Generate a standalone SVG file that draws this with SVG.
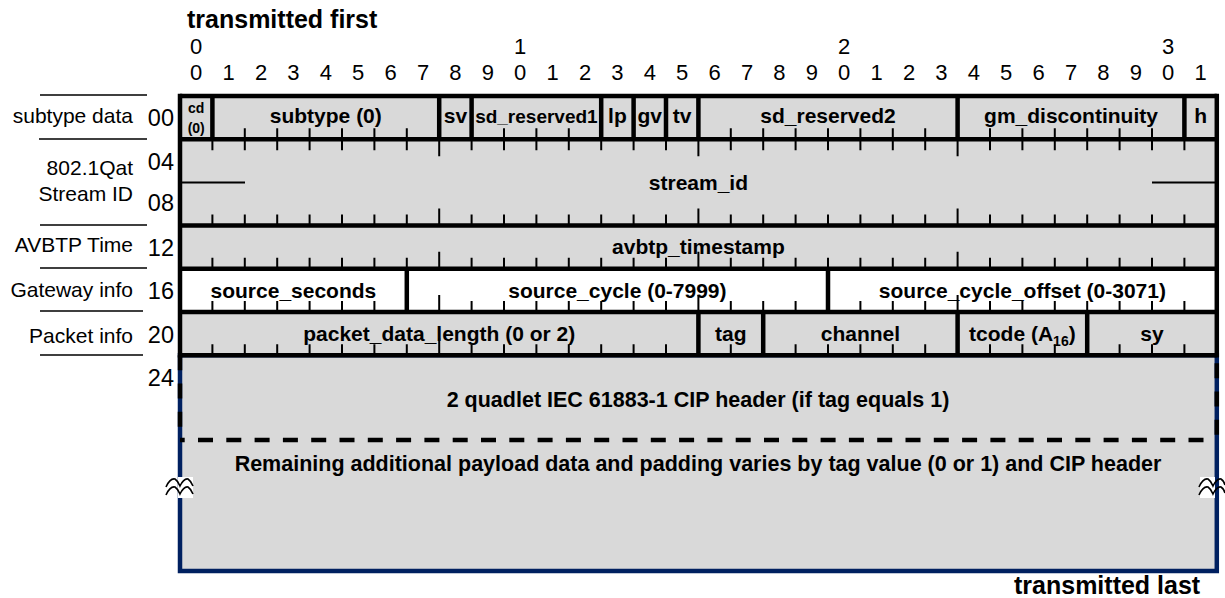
<svg xmlns="http://www.w3.org/2000/svg" width="1225" height="598" viewBox="0 0 1225 598">
  <style>
    text { font-family: "Liberation Sans", Arial, sans-serif; fill: #000; }
    .num { font-size: 22px; text-anchor: middle; }
    .side { font-size: 21px; text-anchor: end; }
    .off { font-size: 23.5px; text-anchor: end; }
    .fld { font-size: 21px; font-weight: bold; text-anchor: middle; }
    .big { font-size: 25px; font-weight: bold; }
    .note { font-size: 21.5px; font-weight: bold; text-anchor: middle; }
    .small { font-size: 14px; font-weight: bold; text-anchor: middle; }
    .grid { stroke: #000; stroke-width: 4.5; fill: none; }
    .tick { stroke: #000; stroke-width: 2; fill: none; }
    .sep { stroke: #000; stroke-width: 1.6; }
    .gray { fill: #d9d9d9; }
    .dash { stroke: #000; stroke-width: 4.5; stroke-dasharray: 15 13.3; fill: none; }
    .wave { stroke: #000; stroke-width: 1.6; fill: none; }
  </style>

  <!-- titles -->
  <text class="big" x="187" y="28">transmitted first</text>
  <text class="big" x="1014" y="594">transmitted last</text>

  <!-- bit numbering: tens row -->
  <g id="bit-tens">
    <text class="num" x="196.2" y="54">0</text>
    <text class="num" x="520.2" y="54">1</text>
    <text class="num" x="844.2" y="54">2</text>
    <text class="num" x="1168.2" y="54">3</text>
  </g>
  <!-- bit numbering: units row -->
  <g id="bit-units">
    <text class="num" x="196.2" y="80">0</text>
    <text class="num" x="228.6" y="80">1</text>
    <text class="num" x="261" y="80">2</text>
    <text class="num" x="293.4" y="80">3</text>
    <text class="num" x="325.8" y="80">4</text>
    <text class="num" x="358.2" y="80">5</text>
    <text class="num" x="390.6" y="80">6</text>
    <text class="num" x="423" y="80">7</text>
    <text class="num" x="455.4" y="80">8</text>
    <text class="num" x="487.8" y="80">9</text>
    <text class="num" x="520.2" y="80">0</text>
    <text class="num" x="552.6" y="80">1</text>
    <text class="num" x="585" y="80">2</text>
    <text class="num" x="617.4" y="80">3</text>
    <text class="num" x="649.8" y="80">4</text>
    <text class="num" x="682.2" y="80">5</text>
    <text class="num" x="714.6" y="80">6</text>
    <text class="num" x="747" y="80">7</text>
    <text class="num" x="779.4" y="80">8</text>
    <text class="num" x="811.8" y="80">9</text>
    <text class="num" x="844.2" y="80">0</text>
    <text class="num" x="876.6" y="80">1</text>
    <text class="num" x="909" y="80">2</text>
    <text class="num" x="941.4" y="80">3</text>
    <text class="num" x="973.8" y="80">4</text>
    <text class="num" x="1006.2" y="80">5</text>
    <text class="num" x="1038.6" y="80">6</text>
    <text class="num" x="1071" y="80">7</text>
    <text class="num" x="1103.4" y="80">8</text>
    <text class="num" x="1135.8" y="80">9</text>
    <text class="num" x="1168.2" y="80">0</text>
    <text class="num" x="1200.6" y="80">1</text>
  </g>

  <!-- left-hand section names and quadlet offsets -->
  <g id="side-labels">
    <path class="sep" d="M40 95H147M39 139H147M40 225H147M40 268H147M40 311H143M40 355H143"/>
    <text class="side" x="133" y="123">subtype data</text>
    <text class="side" x="133" y="175">802.1Qat</text>
    <text class="side" x="133" y="201">Stream ID</text>
    <text class="side" x="133" y="252">AVBTP Time</text>
    <text class="side" x="133" y="297">Gateway info</text>
    <text class="side" x="133" y="343">Packet info</text>
    <text class="off" x="174" y="126">00</text>
    <text class="off" x="174" y="170">04</text>
    <text class="off" x="174" y="211">08</text>
    <text class="off" x="174" y="256">12</text>
    <text class="off" x="174" y="299">16</text>
    <text class="off" x="174" y="343">20</text>
    <text class="off" x="174" y="386">24</text>
  </g>

  <!-- payload area (open-ended) -->
  <g id="payload">
    <rect class="gray" x="180" y="355.2" width="1036.8" height="215.8"/>
    <rect x="180" y="355.2" width="1036.8" height="215.8" fill="none" stroke="#002060" stroke-width="4.5"/>
    <path class="dash" d="M180 440H1216.8" stroke-dashoffset="10.3"/>
    <path class="dash" d="M180 355.2V440" stroke-dasharray="22 10"/>
    <path class="dash" d="M1216.8 355.2V440" stroke-dasharray="18 10" stroke-dashoffset="-8"/>
    <text class="note" x="698" y="407">2 quadlet IEC 61883-1 CIP header (if tag equals 1)</text>
    <text class="note" x="698" y="471">Remaining additional payload data and padding varies by tag value (0 or 1) and CIP header</text>
    <!-- break marks -->
    <rect x="178" y="477" width="15" height="21" fill="#fff"/>
    <path class="wave" d="M166 487Q170 478 175 479Q178 481 180 486Q184 478 188 479Q191 481 193 486M166 495Q170 486 175 487Q178 489 180 494Q184 486 188 487Q191 489 193 494"/>
    <rect x="1200" y="477" width="15" height="21" fill="#fff"/>
    <path class="wave" d="M1199 487Q1203 478 1208 479Q1211 481 1213 486Q1217 478 1221 479Q1224 481 1225 485M1199 495Q1203 486 1208 487Q1211 489 1213 494Q1217 486 1221 487Q1224 489 1225 493"/>
  </g>

  <!-- quadlet 00 -->
  <g id="row-00">
    <rect class="gray" x="180" y="96" width="1036.8" height="43.2"/>
    <text class="small" x="196.2" y="113">cd</text>
    <text class="small" x="196.2" y="133">(0)</text>
    <text class="fld" x="325.8" y="123">subtype (0)</text>
    <text class="fld" x="455.4" y="123">sv</text>
    <text class="fld" x="536.4" y="123" style="font-size:19px">sd_reserved1</text>
    <text class="fld" x="617.4" y="123">lp</text>
    <text class="fld" x="649.8" y="123">gv</text>
    <text class="fld" x="682.2" y="123">tv</text>
    <text class="fld" x="828" y="123">sd_reserved2</text>
    <text class="fld" x="1071" y="123">gm_discontinuity</text>
    <text class="fld" x="1200.6" y="123">h</text>
  </g>

  <!-- quadlets 04-08 -->
  <g id="row-04">
    <rect class="gray" x="180" y="139.2" width="1036.8" height="86.4"/>
    <path d="M182 182.4H245M1152 182.4H1215" stroke="#000" stroke-width="2"/>
    <text class="fld" x="698.4" y="190">stream_id</text>
  </g>

  <!-- quadlet 12 -->
  <g id="row-12">
    <rect class="gray" x="180" y="225.6" width="1036.8" height="43.2"/>
    <text class="fld" x="698.4" y="254">avbtp_timestamp</text>
  </g>

  <!-- quadlet 16 -->
  <g id="row-16">
    <rect x="180" y="268.8" width="1036.8" height="43.2" fill="#fff"/>
    <text class="fld" x="293.4" y="298">source_seconds</text>
    <text class="fld" x="617.4" y="298">source_cycle (0-7999)</text>
    <text class="fld" x="1022.4" y="298">source_cycle_offset (0-3071)</text>
  </g>

  <!-- quadlet 20 -->
  <g id="row-20">
    <rect class="gray" x="180" y="312" width="1036.8" height="43.2"/>
    <text class="fld" x="439.2" y="341">packet_data_length (0 or 2)</text>
    <text class="fld" x="730.8" y="341">tag</text>
    <text class="fld" x="860.4" y="341">channel</text>
    <text class="fld" x="1022.4" y="341">tcode (A<tspan font-size="14" dy="5">16</tspan><tspan dy="-5">)</tspan></text>
    <text class="fld" x="1152" y="341">sy</text>
  </g>

  <!-- bit ticks -->
  <g id="ticks" class="tick">
    <!-- row 00, upward from bottom -->
    <path d="M244.8 139.2v-11M277.2 139.2v-11M309.6 139.2v-11M342 139.2v-11M374.4 139.2v-11M406.8 139.2v-11M504 139.2v-11M536.4 139.2v-11M568.8 139.2v-11M730.8 139.2v-11M763.2 139.2v-11M795.6 139.2v-11M828 139.2v-11M860.4 139.2v-11M892.8 139.2v-11M925.2 139.2v-11M990 139.2v-11M1022.4 139.2v-11M1054.8 139.2v-11M1087.2 139.2v-11M1119.6 139.2v-11M1152 139.2v-11"/>
    <!-- row 04, downward from top -->
    <path d="M212.4 139.2v11M244.8 139.2v11M277.2 139.2v11M309.6 139.2v11M342 139.2v11M374.4 139.2v11M406.8 139.2v11M439.2 139.2v17M471.6 139.2v11M504 139.2v11M536.4 139.2v11M568.8 139.2v11M601.2 139.2v11M633.6 139.2v11M666 139.2v11M698.4 139.2v17M730.8 139.2v11M763.2 139.2v11M795.6 139.2v11M828 139.2v11M860.4 139.2v11M892.8 139.2v11M925.2 139.2v11M957.6 139.2v17M990 139.2v11M1022.4 139.2v11M1054.8 139.2v11M1087.2 139.2v11M1119.6 139.2v11M1152 139.2v11M1184.4 139.2v11"/>
    <!-- row 08, upward from bottom -->
    <path d="M212.4 225.6v-11M244.8 225.6v-11M277.2 225.6v-11M309.6 225.6v-11M342 225.6v-11M374.4 225.6v-11M406.8 225.6v-11M439.2 225.6v-17M471.6 225.6v-11M504 225.6v-11M536.4 225.6v-11M568.8 225.6v-11M601.2 225.6v-11M633.6 225.6v-11M666 225.6v-11M698.4 225.6v-17M730.8 225.6v-11M763.2 225.6v-11M795.6 225.6v-11M828 225.6v-11M860.4 225.6v-11M892.8 225.6v-11M925.2 225.6v-11M957.6 225.6v-17M990 225.6v-11M1022.4 225.6v-11M1054.8 225.6v-11M1087.2 225.6v-11M1119.6 225.6v-11M1152 225.6v-11M1184.4 225.6v-11"/>
    <!-- row 12 -->
    <path d="M212.4 268.8v-11M244.8 268.8v-11M277.2 268.8v-11M309.6 268.8v-11M342 268.8v-11M374.4 268.8v-11M406.8 268.8v-11M439.2 268.8v-17M471.6 268.8v-11M504 268.8v-11M536.4 268.8v-11M568.8 268.8v-11M601.2 268.8v-11M633.6 268.8v-11M666 268.8v-11M698.4 268.8v-17M730.8 268.8v-11M763.2 268.8v-11M795.6 268.8v-11M828 268.8v-11M860.4 268.8v-11M892.8 268.8v-11M925.2 268.8v-11M957.6 268.8v-17M990 268.8v-11M1022.4 268.8v-11M1054.8 268.8v-11M1087.2 268.8v-11M1119.6 268.8v-11M1152 268.8v-11M1184.4 268.8v-11"/>
    <!-- row 16 -->
    <path d="M212.4 312v-11M244.8 312v-11M277.2 312v-11M309.6 312v-11M342 312v-11M374.4 312v-11M439.2 312v-17M471.6 312v-11M504 312v-11M536.4 312v-11M568.8 312v-11M601.2 312v-11M633.6 312v-11M666 312v-11M698.4 312v-17M730.8 312v-11M763.2 312v-11M795.6 312v-11M860.4 312v-11M892.8 312v-11M925.2 312v-11M957.6 312v-17M990 312v-11M1022.4 312v-11M1054.8 312v-11M1087.2 312v-11M1119.6 312v-11M1152 312v-11M1184.4 312v-11"/>
    <!-- row 20 -->
    <path d="M212.4 355.2v-11M244.8 355.2v-11M277.2 355.2v-11M309.6 355.2v-11M342 355.2v-11M374.4 355.2v-11M406.8 355.2v-11M439.2 355.2v-17M471.6 355.2v-11M504 355.2v-11M536.4 355.2v-11M568.8 355.2v-11M601.2 355.2v-11M633.6 355.2v-11M666 355.2v-11M730.8 355.2v-11M795.6 355.2v-11M828 355.2v-11M860.4 355.2v-11M892.8 355.2v-11M925.2 355.2v-11M990 355.2v-11M1022.4 355.2v-11M1054.8 355.2v-11M1119.6 355.2v-11M1152 355.2v-11M1184.4 355.2v-11"/>
  </g>

  <!-- field borders -->
  <g id="field-borders" class="grid">
    <path d="M180 96H1216.8M180 139.2H1216.8M180 225.6H1216.8M180 268.8H1216.8M180 312H1216.8M180 355.2H1216.8"/>
    <path d="M180 93.8V357.4M1216.8 93.8V357.4"/>
    <!-- quadlet 00 dividers -->
    <path d="M212.4 96V139.2M439.2 96V139.2M471.6 96V139.2M601.2 96V139.2M633.6 96V139.2M666 96V139.2M698.4 96V139.2M957.6 96V139.2M1184.4 96V139.2"/>
    <!-- quadlet 16 dividers -->
    <path d="M406.8 268.8V312M828 268.8V312"/>
    <!-- quadlet 20 dividers -->
    <path d="M698.4 312V355.2M763.2 312V355.2M957.6 312V355.2M1087.2 312V355.2"/>
  </g>
</svg>
